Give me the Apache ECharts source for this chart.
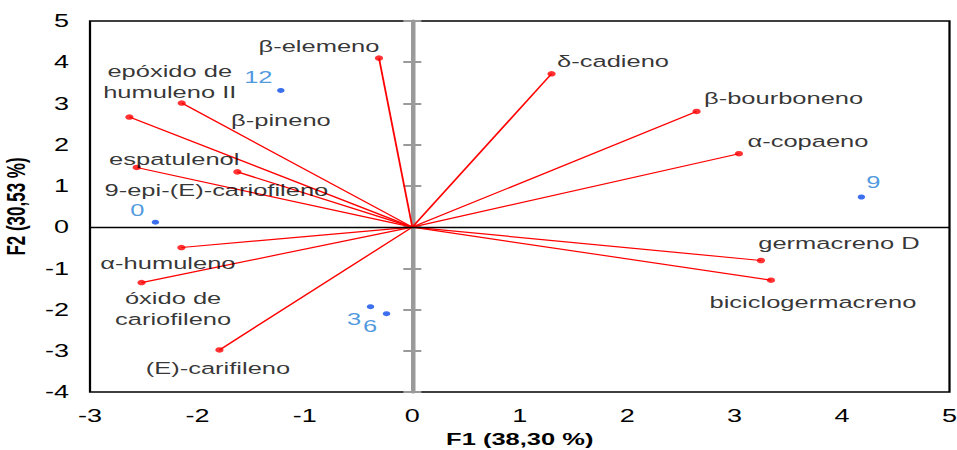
<!DOCTYPE html>
<html><head><meta charset="utf-8">
<script src="https://cdn.jsdelivr.net/npm/echarts@6/dist/echarts.min.js"></script>
<style>
html,body{margin:0;padding:0;background:#fff;overflow:hidden}
#wrap{width:957px;height:450px;overflow:hidden}
#chart{width:638px;height:450px;transform:scaleX(1.5);transform-origin:0 0}
</style></head><body><div id="wrap"><div id="chart"></div></div>
<script>
// ---- data ----
const variableNames = ['β-elemeno', 'epóxido de\nhumuleno II', 'β-pineno', 'espatulenol',
  '9-epi-(E)-cariofileno', 'α-humuleno', 'óxido de\ncariofileno', '(E)-carifileno',
  'δ-cadieno', 'β-bourboneno', 'α-copaeno', 'germacreno D', 'biciclogermacreno'];
const variableF1 = [-0.31, -2.146, -2.633, -2.565, -1.628, -2.149, -2.52, -1.795, 1.296, 2.646, 3.04, 3.245, 3.338];
const variableF2 = [4.10, 3.01, 2.67, 1.447, 1.34, -0.495, -1.345, -2.98, 3.72, 2.806, 1.78, -0.81, -1.287];

const observationNames = ['12', '0', '9', '3', '6'];
const observationF1 = [-1.224, -2.391, 4.18, -0.389, -0.24];
const observationF2 = [3.316, 0.12, 0.73, -1.93, -2.10];

const xRange = [-3, 5];
const yRange = [-4, 5];
const xTitle = 'F1 (38,30 %)';
const yTitle = 'F2 (30,53 %)';

// ---- label layout (pixel offsets, not data) ----
const variableLabelOffsets = [[-40,-12],[-8,-21],[101,3],[25,-8],[-14,18],[-9,16],[21,26],[-1,18],
  [41,-13],[58,-13],[46,-13],[52,-17],[28,22]];
const observationLabelOffsets = [[-15,-13],[-12,-12],[8,-15],[-11,12],[-11,12]];

const FONT = '"Liberation Sans", Arial, sans-serif';
const chart = echarts.init(document.getElementById('chart'), null, {renderer: 'svg'});

const baseY = {
  type: 'value', min: yRange[0], max: yRange[1], interval: 1,
  splitLine: {show: false}
};

chart.setOption({
  animation: false,
  grid: {left: 60, right: 5, top: 21, bottom: 58, show: true, borderColor: '#000', borderWidth: 1.5,
    backgroundColor: '#fff', outerBoundsMode: 'none', containLabel: false},
  xAxis: {
    type: 'value', min: xRange[0], max: xRange[1], interval: 1,
    axisLine: {show: false, onZero: false}, axisTick: {show: false}, splitLine: {show: false},
    axisLabel: {fontSize: 18, color: '#000', fontFamily: FONT, margin: 15},
    name: xTitle, nameLocation: 'middle', nameGap: 39,
    nameTextStyle: {fontSize: 17, fontWeight: 'bold', color: '#000', fontFamily: FONT}
  },
  yAxis: [
    Object.assign({}, baseY, {
      axisLine: {show: false, onZero: false}, axisTick: {show: false},
      axisLabel: {fontSize: 18, color: '#000', fontFamily: FONT, margin: 14},
      name: yTitle, nameLocation: 'middle', nameGap: 36, nameRotate: 90,
      nameTextStyle: {fontSize: 17, fontWeight: 'bold', color: '#000', fontFamily: FONT}
    }),
    Object.assign({}, baseY, {
      axisLine: {show: true, onZero: true, onZeroAxisIndex: 0, lineStyle: {color: '#9a9a9a', width: 3}},
      axisTick: {show: true, inside: false, length: 6, lineStyle: {color: '#9a9a9a', width: 2}},
      axisLabel: {show: false}
    }),
    Object.assign({}, baseY, {
      axisLine: {show: false, onZero: true, onZeroAxisIndex: 0},
      axisTick: {show: true, inside: true, length: 6, lineStyle: {color: '#9a9a9a', width: 2}},
      axisLabel: {show: false}
    })
  ],
  series: [
    {
      type: 'scatter', data: [], silent: true, z: 1,
      markLine: {silent: true, symbol: 'none', label: {show: false},
        lineStyle: {color: '#000', width: 1.3, type: 'solid'},
        data: [{yAxis: 0}]}
    },
    {
      type: 'lines', coordinateSystem: 'cartesian2d', silent: true, z: 3,
      lineStyle: {color: '#ff0000', width: 1.2, opacity: 1},
      data: variableF1.map((x, i) => ({coords: [[0, 0], [x, variableF2[i]]]}))
    },
    {
      type: 'scatter', z: 4, symbolSize: 5.5,
      itemStyle: {color: '#ff0000'},
      label: {show: true, position: 'inside', formatter: p => p.name, color: '#000',
        fontSize: 17, fontFamily: FONT, lineHeight: 21, align: 'center', verticalAlign: 'middle'},
      data: variableF1.map((x, i) => ({
        name: variableNames[i], value: [x, variableF2[i]],
        label: {offset: variableLabelOffsets[i]}
      }))
    },
    {
      type: 'scatter', z: 4, symbolSize: 5,
      itemStyle: {color: '#0a4be8'},
      label: {show: true, position: 'inside', formatter: p => p.name, color: '#1f80d6',
        fontSize: 17, fontFamily: FONT, align: 'center', verticalAlign: 'middle'},
      data: observationF1.map((x, i) => ({
        name: observationNames[i], value: [x, observationF2[i]],
        label: {offset: observationLabelOffsets[i]}
      }))
    }
  ]
});
</script></body></html>
